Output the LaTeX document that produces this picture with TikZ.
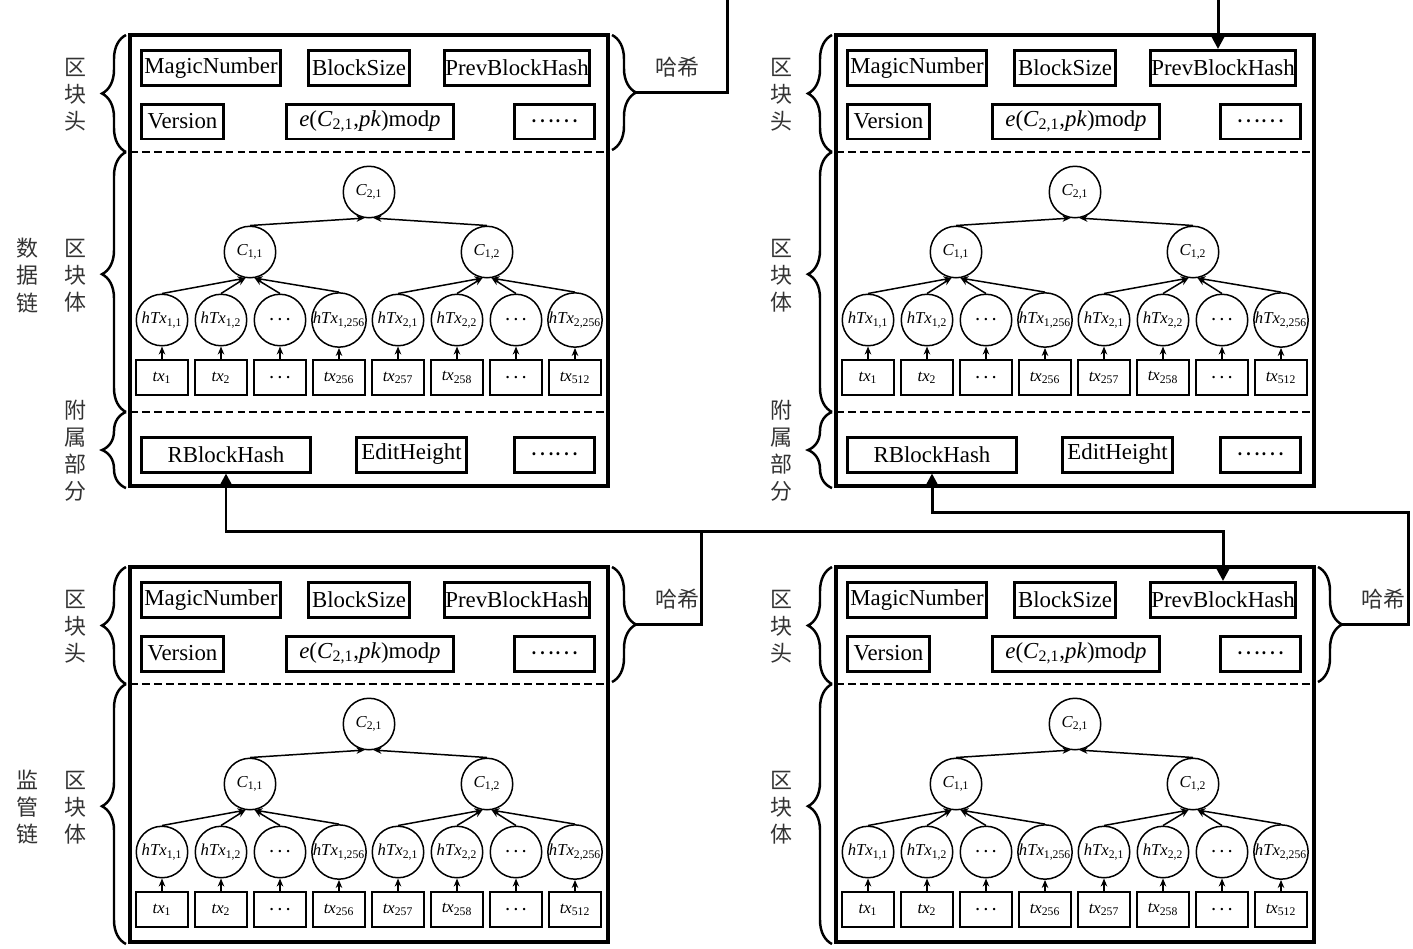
\documentclass[tikz,border=0pt]{standalone}
\usepackage{fontspec}
\setmainfont{Liberation Serif}
\newfontfamily\cjk{Noto Sans CJK SC}
\usetikzlibrary{arrows.meta,decorations.pathreplacing,calc}

\tikzset{
  field/.style={draw, line width=1.7pt, inner sep=0pt, minimum height=0.70cm,
    font=\fontsize{13}{15}\selectfont},
  hashnode/.style={draw, circle, line width=0.85pt, inner sep=0pt, minimum size=1.03cm,
    font=\fontsize{9.5}{11}\selectfont},
  txbox/.style={draw, line width=0.75pt, inner sep=0pt, minimum width=1.04cm,
    minimum height=0.70cm, font=\fontsize{9.5}{11}\selectfont},
  blockframe/.style={line width=2.3pt},
  dashsep/.style={line width=1.4pt, dash pattern=on 4.5pt off 2.3pt},
  treearrow/.style={line width=0.85pt, -{Stealth[length=0.16cm,width=0.13cm]}},
  hashlink/.style={line width=1.7pt},
  linkarrow/.style={hashlink, -{Triangle[length=0.26cm,width=0.26cm]}},
  sidebrace/.style={decorate, decoration={brace, amplitude=0.48cm}, line width=1.4pt},
  sidetext/.style={font=\cjk\fontsize{12.5}{15.4}\selectfont, text=black!80,
    align=center, inner sep=0pt},
}

% dots inside the tree nodes
\newcommand{\treedots}{{\boldmath$\cdots$}}

% header, body and left braces of one block
% #1 name, #2 x shift, #3 y shift, #4 bottom of the frame
\newcommand{\blockcore}[4]{%
\begin{scope}[shift={(#2,#3)}]
  % frame of the block
  \draw[blockframe] (130,35) -- (608,35) -- (608,#4) -- (130,#4) -- cycle;

  % header fields
  \node[field, minimum width=2.78cm] (#1-magic) at (211,68) {MagicNumber};
  \node[field, minimum width=2.02cm] (#1-size) at (359,68) {BlockSize};
  \node[field, minimum width=2.90cm] (#1-prev) at (517,68) {PrevBlockHash};
  \node[field, minimum width=1.64cm] (#1-ver) at (182.5,121.5) {Version};
  \node[field, minimum width=3.34cm] (#1-sig) at (370,121.5)
    {\textit{e}(\textit{C}\textsubscript{2,1},\textit{pk})mod\textit{p}};
  \node[field, minimum width=1.60cm] (#1-more) at (554.5,121.5) {{\cjk ……}};

  % header / body separator
  \draw[dashsep] (130,152) -- (608,152);

  % Merkle tree: root and inner nodes
  \node[hashnode] (#1-c21) at (369,192) {\textit{C}\textsubscript{2,1}};
  \node[hashnode] (#1-c11) at (250,252) {\textit{C}\textsubscript{1,1}};
  \node[hashnode] (#1-c12) at (487,252) {\textit{C}\textsubscript{1,2}};

  % Merkle tree: transaction hashes
  \node[hashnode] (#1-h1) at (162,320) {\textit{hTx}\textsubscript{1,1}};
  \node[hashnode] (#1-h2) at (221,320) {\textit{hTx}\textsubscript{1,2}};
  \node[hashnode] (#1-h3) at (280,320) {\treedots};
  \node[hashnode] (#1-h4) at (339,320) {\textit{hTx}\textsubscript{1,256}};
  \node[hashnode] (#1-h5) at (398,320) {\textit{hTx}\textsubscript{2,1}};
  \node[hashnode] (#1-h6) at (457,320) {\textit{hTx}\textsubscript{2,2}};
  \node[hashnode] (#1-h7) at (516,320) {\treedots};
  \node[hashnode] (#1-h8) at (575,320) {\textit{hTx}\textsubscript{2,256}};

  % transactions
  \node[txbox] (#1-t1) at (162,377.5) {\textit{tx}\textsubscript{1}};
  \node[txbox] (#1-t2) at (221,377.5) {\textit{tx}\textsubscript{2}};
  \node[txbox] (#1-t3) at (280,377.5) {\treedots};
  \node[txbox] (#1-t4) at (339,377.5) {\textit{tx}\textsubscript{256}};
  \node[txbox] (#1-t5) at (398,377.5) {\textit{tx}\textsubscript{257}};
  \node[txbox] (#1-t6) at (457,377.5) {\textit{tx}\textsubscript{258}};
  \node[txbox] (#1-t7) at (516,377.5) {\treedots};
  \node[txbox] (#1-t8) at (575,377.5) {\textit{tx}\textsubscript{512}};

  % transaction -> hash
  \draw[treearrow] (#1-t1) -- (#1-h1);
  \draw[treearrow] (#1-t2) -- (#1-h2);
  \draw[treearrow] (#1-t3) -- (#1-h3);
  \draw[treearrow] (#1-t4) -- (#1-h4);
  \draw[treearrow] (#1-t5) -- (#1-h5);
  \draw[treearrow] (#1-t6) -- (#1-h6);
  \draw[treearrow] (#1-t7) -- (#1-h7);
  \draw[treearrow] (#1-t8) -- (#1-h8);

  % hash -> inner node
  \draw[treearrow] (#1-h1.north) -- (#1-c11.-100);
  \draw[treearrow] (#1-h2.north) -- (#1-c11.-100);
  \draw[treearrow] (#1-h3.north) -- (#1-c11.-80);
  \draw[treearrow] (#1-h4.north) -- (#1-c11.-80);
  \draw[treearrow] (#1-h5.north) -- (#1-c12.-100);
  \draw[treearrow] (#1-h6.north) -- (#1-c12.-100);
  \draw[treearrow] (#1-h7.north) -- (#1-c12.-80);
  \draw[treearrow] (#1-h8.north) -- (#1-c12.-80);

  % inner node -> root
  \draw[treearrow] (#1-c11.north) -- (#1-c21.-100);
  \draw[treearrow] (#1-c12.north) -- (#1-c21.-80);

  % braces on the left
  \draw[sidebrace] (126,152) -- (126,35);
  \node[sidetext] (#1-headtext) at (75,94.5) {区\\块\\头};
  \draw[sidebrace, decoration={aspect=0.53}] (126,412) -- (126,152);
  \node[sidetext] (#1-bodytext) at (75,275.5) {区\\块\\体};
\end{scope}}

% appendix part of a data chain block
\newcommand{\blockextra}[3]{%
\begin{scope}[shift={(#2,#3)}]
  \draw[dashsep] (130,412) -- (608,412);
  \node[field, minimum width=3.38cm] (#1-rbh) at (226,454.5) {RBlockHash};
  \node[field, minimum width=2.20cm] (#1-edit) at (411.5,454.5) {EditHeight};
  \node[field, minimum width=1.60cm] (#1-etc) at (554.5,454.5) {{\cjk ……}};
  \draw[sidebrace] (126,488) -- (126,412);
  \node[sidetext] (#1-extratext) at (75,450.5) {附\\属\\部\\分};
\end{scope}}

% hash brace on the right of the header
\newcommand{\hashbrace}[3]{%
\begin{scope}[shift={(#2,#3)}]
  \draw[sidebrace] (612,35) -- (612,150);
  \coordinate (#1-tip) at (636,92.5);
  \node[sidetext] (#1-hash) at (677,67) {哈希};
\end{scope}}

\begin{document}
\begin{tikzpicture}[x=0.02cm, y=-0.02cm]
\useasboundingbox (0,0) rectangle (1413,948);

% Data chain, first block
\blockcore{tl}{0}{0}{486}
\blockextra{tl}{0}{0}
\hashbrace{tl}{0}{0}
\node[sidetext] (datachain) at (27,275.5) {数\\据\\链};

% Data chain, second block
\blockcore{tr}{706}{0}{486}
\blockextra{tr}{706}{0}

% Supervision chain, first block
\blockcore{bl}{0}{532}{410}
\hashbrace{bl}{0}{532}
\node[sidetext] (superchain) at (27,807.5) {监\\管\\链};

% Supervision chain, second block
\blockcore{br}{706}{532}{410}
\hashbrace{br}{706}{532}

% Hash links
\coordinate (tl-out) at (727,0);
\coordinate (tr-in) at (1218,0);
\coordinate (j1) at (701,531);
\coordinate (j2) at (1408,512);

\draw[hashlink] (tl-tip) -| (tl-out);
\draw[linkarrow] (tr-in) -- (tr-in |- tr-prev.north);
\draw[linkarrow] (bl-tip) -| (j1) -| (tl-rbh.south);
\draw[linkarrow] (j1) -| (br-prev.north);
\draw[linkarrow] (br-tip) -| (j2) -| (tr-rbh.south);
\end{tikzpicture}
\end{document}
